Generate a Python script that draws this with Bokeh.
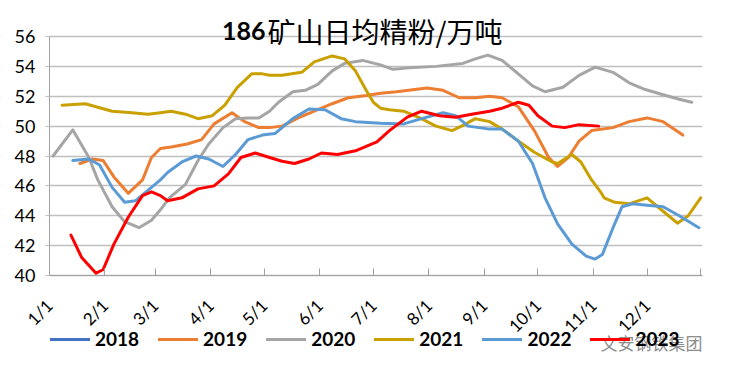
import math
import pandas as pd
from bokeh.plotting import figure
from bokeh.models import Legend, LegendItem, FixedTicker, Label, BoxAnnotation
from bokeh.embed import file_html
from bokeh.resources import INLINE

# ---------------- data ----------------
title_num = "186"
title_txt = "矿山日均精粉/万吨"
watermark = "文安钢铁集团"

tick_dates = ["01-01", "02-01", "03-01", "04-01", "05-01", "06-01", "07-01",
              "08-01", "09-01", "10-01", "11-01", "12-01", "12-31"]
tick_labels = ["1/1", "2/1", "3/1", "4/1", "5/1", "6/1", "7/1",
               "8/1", "9/1", "10/1", "11/1", "12/1", ""]
y_ticks = [40, 42, 44, 46, 48, 50, 52, 54, 56]

years = ["2018", "2019", "2020", "2021", "2022", "2023"]

# 2018 has no visible data in the chart (legend entry only)
dates_2018 = ["01-01"]
vals_2018 = [float("nan")]

dates_2019 = ["01-18", "01-25", "01-31", "02-06", "02-14", "02-22", "02-27", "03-04",
              "03-10", "03-19", "03-27", "04-03", "04-13", "04-20", "04-28", "05-04",
              "05-11", "05-20", "05-29", "06-08", "06-17", "06-27", "07-05", "07-14",
              "07-31", "08-09", "08-18", "08-27", "09-04", "09-11", "09-20", "09-29",
              "10-07", "10-12", "10-18", "10-24", "10-31", "11-12", "11-21", "12-01",
              "12-10", "12-21"]
vals_2019 = [47.5, 47.8, 47.7, 46.6, 45.5, 46.4, 47.9, 48.5,
             48.6, 48.8, 49.1, 50.15, 50.9, 50.3, 49.9, 49.9,
             50.0, 50.55, 51.0, 51.5, 51.9, 52.05, 52.2, 52.3,
             52.55, 52.4, 51.9, 51.9, 52.0, 51.9, 51.3, 49.7,
             47.9, 47.3, 47.9, 49.0, 49.7, 49.9, 50.3, 50.55,
             50.3, 49.4]

dates_2020 = ["01-03", "01-14", "01-23", "01-28", "02-05", "02-12", "02-20", "02-27",
              "03-04", "03-09", "03-18", "03-25", "03-31", "04-08", "04-15", "04-22",
              "04-28", "05-04", "05-09", "05-17", "05-24", "05-31", "06-08", "06-15",
              "06-25", "07-05", "07-12", "07-21", "08-05", "08-20", "08-27", "09-03",
              "09-11", "09-20", "09-28", "10-05", "10-15", "10-24", "11-02", "11-12",
              "11-21", "11-30", "12-10", "12-19", "12-26"]
vals_2020 = [48.0, 49.75, 47.9, 46.4, 44.6, 43.6, 43.2, 43.7,
             44.4, 45.2, 46.1, 47.7, 48.8, 49.9, 50.5, 50.55,
             50.55, 51.0, 51.6, 52.3, 52.4, 52.8, 53.7, 54.2,
             54.4, 54.1, 53.8, 53.9, 54.0, 54.2, 54.5, 54.75,
             54.4, 53.5, 52.7, 52.3, 52.6, 53.4, 53.95, 53.6,
             52.9, 52.45, 52.1, 51.8, 51.6]

dates_2021 = ["01-08", "01-21", "02-05", "02-16", "02-25", "03-04", "03-10", "03-18",
              "03-25", "04-02", "04-09", "04-16", "04-24", "04-30", "05-04", "05-11",
              "05-22", "05-29", "06-08", "06-15", "06-21", "06-27", "07-01", "07-05",
              "07-10", "07-18", "07-27", "08-05", "08-14", "08-21", "08-27", "09-04",
              "09-11", "09-20", "09-29", "10-09", "10-12", "10-20", "10-25", "10-31",
              "11-05", "11-07", "11-13", "11-21", "12-01", "12-10", "12-18", "12-24",
              "12-31"]
vals_2021 = [51.4, 51.5, 51.0, 50.9, 50.8, 50.9, 51.0, 50.8,
             50.5, 50.7, 51.4, 52.6, 53.5, 53.5, 53.4, 53.4,
             53.6, 54.3, 54.7, 54.5, 53.7, 52.4, 51.6, 51.2,
             51.1, 51.0, 50.55, 50.0, 49.7, 50.1, 50.5, 50.3,
             49.8, 49.0, 48.25, 47.6, 47.5, 48.1, 47.6, 46.4,
             45.6, 45.2, 44.9, 44.8, 45.2, 44.3, 43.5, 44.0,
             45.2]

dates_2022 = ["01-14", "01-23", "01-29", "02-05", "02-12", "02-18", "02-25", "03-04",
              "03-08", "03-16", "03-24", "03-31", "04-08", "04-15", "04-22", "04-30",
              "05-07", "05-17", "05-26", "06-04", "06-13", "06-21", "07-05", "07-18",
              "07-28", "08-09", "08-16", "08-23", "09-04", "09-11", "09-20", "09-28",
              "10-05", "10-12", "10-20", "10-28", "11-02", "11-06", "11-12", "11-17",
              "11-23", "12-01", "12-10", "12-19", "12-30"]
vals_2022 = [47.7, 47.8, 47.4, 45.9, 44.9, 45.0, 45.7, 46.4,
             46.9, 47.6, 48.0, 47.8, 47.3, 48.1, 49.1, 49.4,
             49.5, 50.5, 51.15, 51.1, 50.5, 50.3, 50.2, 50.15,
             50.5, 50.9, 50.7, 50.0, 49.8, 49.8, 49.0, 47.5,
             45.2, 43.45, 42.1, 41.3, 41.1, 41.4, 43.2, 44.6,
             44.8, 44.7, 44.6, 44.0, 43.2]

dates_2023 = ["01-13", "01-19", "01-27", "01-31", "02-06", "02-14", "02-22", "02-27",
              "03-04", "03-08", "03-16", "03-25", "04-03", "04-11", "04-18", "04-26",
              "05-04", "05-11", "05-18", "05-26", "06-02", "06-11", "06-21", "06-28",
              "07-03", "07-10", "07-20", "07-28", "08-07", "08-16", "08-25", "09-04",
              "09-11", "09-20", "09-26", "10-01", "10-09", "10-16", "10-24", "11-04"]
vals_2023 = [42.7, 41.2, 40.15, 40.4, 42.1, 43.9, 45.35, 45.6,
             45.35, 45.0, 45.2, 45.8, 46.0, 46.8, 47.9, 48.2,
             47.9, 47.65, 47.5, 47.8, 48.2, 48.1, 48.35, 48.7,
             48.95, 49.7, 50.6, 51.0, 50.7, 50.6, 50.8, 51.0,
             51.2, 51.6, 51.4, 50.7, 50.0, 49.9, 50.1, 50.0]

colors = {"2018": "#4472C4", "2019": "#ED7D31", "2020": "#A5A5A5",
          "2021": "#C9A000", "2022": "#5B9BD5", "2023": "#FF0000"}

series = {"2018": (dates_2018, vals_2018), "2019": (dates_2019, vals_2019),
          "2020": (dates_2020, vals_2020), "2021": (dates_2021, vals_2021),
          "2022": (dates_2022, vals_2022), "2023": (dates_2023, vals_2023)}

# ---------------- helpers ----------------
BASE = pd.Timestamp("2021-01-01")


def doy(s):
    return (pd.Timestamp("2021-" + s) - BASE).days


FONT = "Lato"
X_MIN, X_MAX = 0, 365
Y_MIN, Y_MAX = 40, 56
# the frame extends left of Jan 1 (tick-label room), above 56 (title room)
# and below 40 (tick labels + legend room); axes are pinned at day 0 / value 40
X_LEFT = -27.39
Y_TOP, Y_BOTTOM = 57.205, 34.377

p = figure(width=717, height=359, output_backend="svg", toolbar_location=None,
           x_range=(X_LEFT, X_MAX), y_range=(Y_BOTTOM, Y_TOP),
           min_border_left=0, min_border_right=15, min_border_top=18,
           min_border_bottom=0)
p.outline_line_color = None
p.background_fill_color = "white"
p.border_fill_color = "white"

tick_pos = [doy(d) for d in tick_dates]
p.xaxis.fixed_location = Y_MIN
p.xaxis.bounds = (X_MIN, X_MAX)
p.xaxis.ticker = FixedTicker(ticks=tick_pos)
p.xaxis.major_label_overrides = {t: l for t, l in zip(tick_pos, tick_labels)}
p.xaxis.major_label_orientation = math.pi / 4
p.xaxis.major_tick_in = 7
p.xaxis.major_tick_out = 0
p.xaxis.minor_tick_line_color = None
p.xaxis.axis_line_color = "#A0A0A0"
p.xaxis.major_tick_line_color = "#A0A0A0"
p.xaxis.major_label_text_font = FONT
p.xaxis.major_label_text_font_size = "17px"
p.xaxis.major_label_text_color = "#000000"
p.xaxis.major_label_standoff = 27

p.yaxis.fixed_location = X_MIN
p.yaxis.bounds = (Y_MIN, Y_MAX)
p.yaxis.ticker = FixedTicker(ticks=y_ticks)
p.yaxis.major_tick_in = 0
p.yaxis.major_tick_out = 4
p.yaxis.minor_tick_line_color = None
p.yaxis.axis_line_color = "#A0A0A0"
p.yaxis.major_tick_line_color = "#BFBFBF"
p.yaxis.major_label_text_font = FONT
p.yaxis.major_label_text_font_size = "18px"
p.yaxis.major_label_text_color = "#000000"
p.yaxis.major_label_standoff = 10

p.xgrid.grid_line_color = None
p.ygrid.ticker = FixedTicker(ticks=y_ticks)
p.ygrid.grid_line_color = "#BFBFBF"
p.ygrid.grid_line_width = 1.3

# keep the horizontal grid lines from running under the y tick labels
p.add_layout(BoxAnnotation(right=X_MIN, fill_color="white", fill_alpha=1.0,
                           line_alpha=0, level="underlay"))

items = []
for y in years:
    ds, vs = series[y]
    r = p.line([doy(d) for d in ds], vs, line_color=colors[y], line_width=3,
               line_join="round", line_cap="round")
    items.append(LegendItem(label=y, renderers=[r]))

legend = Legend(items=items, orientation="horizontal", location=(50, 9),
                glyph_width=40, glyph_height=20, label_height=20,
                label_standoff=5, spacing=19,
                padding=0, margin=0, border_line_color=None,
                background_fill_alpha=0,
                label_text_font=FONT, label_text_font_style="bold",
                label_text_font_size="19px", label_text_color="#000000")
p.add_layout(legend, "center")

# title: bold digits, regular Chinese
px_per_day = 653 / 365
p.add_layout(Label(x=(265 - 49) / px_per_day, y=56.35, text=title_num,
                   text_align="right", text_baseline="middle", text_font=FONT,
                   text_font_style="bold", text_font_size="25px",
                   text_color="#000000"))
p.add_layout(Label(x=(267 - 49) / px_per_day, y=56.35, text=title_txt,
                   text_align="left", text_baseline="middle",
                   text_font="Noto Sans CJK SC", text_font_size="28px",
                   text_color="#000000"))

# watermark that sits over the end of the legend (drawn on top, as in the source)
p.add_layout(Label(x=(600 - 49) / px_per_day, y=35.5, text=watermark,
                   text_align="left", text_baseline="middle",
                   text_font="Noto Sans CJK SC", text_font_size="17px",
                   text_color="#8C8C8C", background_fill_color="white",
                   background_fill_alpha=0.85, level="overlay"))

open("out.html", "w").write(file_html(p, INLINE))
